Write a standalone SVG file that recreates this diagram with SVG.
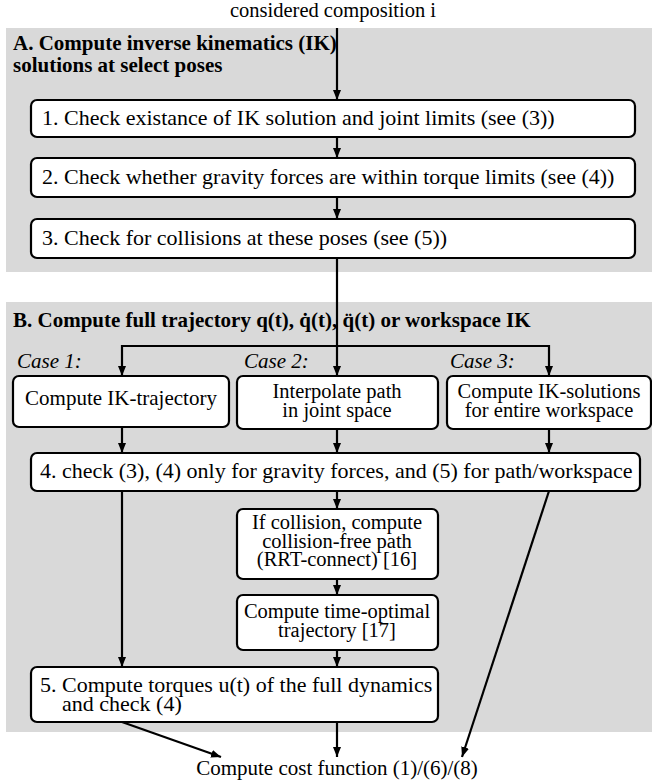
<svg xmlns="http://www.w3.org/2000/svg" width="652" height="784" viewBox="0 0 652 784">
<style>
  text { font-family: "Liberation Serif", "Times New Roman", serif; fill: #000; }
  .t21 { font-size: 21px; }
  .t20 { font-size: 20.5px; }
  .t22 { font-size: 22px; }
  .hdr { font-size: 21px; font-weight: bold; }
  .case { font-size: 21px; font-style: italic; }
  .mid { text-anchor: middle; }
  .panel { fill: #d9d9d9; stroke: none; }
  .box { fill: #fff; stroke: #000; stroke-width: 2.2; }
  .arr { fill: none; stroke: #000; stroke-width: 2.2; marker-end: url(#ah); }
</style>
<defs>
  <marker id="ah" markerUnits="userSpaceOnUse" markerWidth="10" markerHeight="10" viewBox="0 0 10 10" refX="10" refY="5" orient="auto">
    <path d="M0,1 L10,5 L0,9 Z" fill="#000"/>
  </marker>
</defs>

<rect class="panel" x="6" y="28" width="646" height="244"/>
<rect class="panel" x="6" y="302" width="646" height="430"/>

<text class="t20 mid" x="333" y="17">considered composition i</text>
<text class="hdr" x="13" y="50">A. Compute inverse kinematics (IK)</text>
<text class="hdr" x="13" y="72">solutions at select poses</text>
<text class="hdr" x="13" y="327">B. Compute full trajectory q(t), q̇(t), q̈(t) or workspace IK</text>
<text class="case" x="17" y="368">Case 1:</text>
<text class="case" x="244" y="368">Case 2:</text>
<text class="case" x="450" y="368">Case 3:</text>
<text class="t21 mid" x="337" y="775">Compute cost function (1)/(6)/(8)</text>

<g id="connectors">
  <line class="arr" x1="337" y1="28" x2="337" y2="100"/>
  <line class="arr" x1="337" y1="137" x2="337" y2="158"/>
  <line class="arr" x1="337" y1="197" x2="337" y2="219"/>
  <line class="arr" x1="337" y1="258" x2="337" y2="376"/>
  <polyline class="arr" points="337,346 122,346 122,376"/>
  <polyline class="arr" points="337,346 549,346 549,376"/>
  <line class="arr" x1="122" y1="427" x2="122" y2="453"/>
  <line class="arr" x1="337" y1="429" x2="337" y2="453"/>
  <line class="arr" x1="549" y1="429" x2="549" y2="453"/>
  <line class="arr" x1="337" y1="491" x2="337" y2="509"/>
  <line class="arr" x1="122" y1="491" x2="122" y2="667"/>
  <line class="arr" x1="549" y1="491" x2="462" y2="757"/>
  <line class="arr" x1="337" y1="579" x2="337" y2="595"/>
  <line class="arr" x1="337" y1="650" x2="337" y2="667"/>
  <line class="arr" x1="122" y1="722" x2="221" y2="757"/>
  <line class="arr" x1="337" y1="722" x2="337" y2="757"/>
</g>

<g id="step1">
  <rect class="box" x="31" y="100" width="604" height="37" rx="6"/>
  <text class="t22" x="42" y="125">1. Check existance of IK solution and joint limits (see (3))</text>
</g>
<g id="step2">
  <rect class="box" x="31" y="158" width="604" height="39" rx="6"/>
  <text class="t22" x="42" y="184">2. Check whether gravity forces are within torque limits (see (4))</text>
</g>
<g id="step3">
  <rect class="box" x="31" y="219" width="604" height="39" rx="6"/>
  <text class="t22" x="42" y="245">3. Check for collisions at these poses (see (5))</text>
</g>
<g id="case1">
  <rect class="box" x="13" y="376" width="216" height="51" rx="6"/>
  <text class="t21 mid" x="121" y="405">Compute IK-trajectory</text>
</g>
<g id="case2">
  <rect class="box" x="237" y="376" width="201" height="53" rx="6"/>
  <text class="t20 mid" x="337" y="398">Interpolate path</text>
  <text class="t20 mid" x="337" y="417">in joint space</text>
</g>
<g id="case3">
  <rect class="box" x="447" y="376" width="204" height="53" rx="6"/>
  <text class="t20 mid" x="549" y="398">Compute IK-solutions</text>
  <text class="t20 mid" x="549" y="417">for entire workspace</text>
</g>
<g id="step4">
  <rect class="box" x="31" y="453" width="609" height="38" rx="6"/>
  <text class="t22" x="40" y="478">4. check (3), (4) only for gravity forces, and (5) for path/workspace</text>
</g>
<g id="collision">
  <rect class="box" x="237" y="509" width="201" height="70" rx="6"/>
  <text class="t20 mid" x="337" y="529">If collision, compute</text>
  <text class="t20 mid" x="337" y="547.5">collision-free path</text>
  <text class="t20 mid" x="337" y="566">(RRT-connect) [16]</text>
</g>
<g id="timeopt">
  <rect class="box" x="237" y="595" width="201" height="55" rx="6"/>
  <text class="t20 mid" x="337" y="618">Compute time-optimal</text>
  <text class="t20 mid" x="337" y="637">trajectory [17]</text>
</g>
<g id="step5">
  <rect class="box" x="31" y="667" width="407" height="55" rx="6"/>
  <text class="t22" x="40" y="692">5. Compute torques u(t) of the full dynamics</text>
  <text class="t22" x="62" y="711">and check (4)</text>
</g>
</svg>
